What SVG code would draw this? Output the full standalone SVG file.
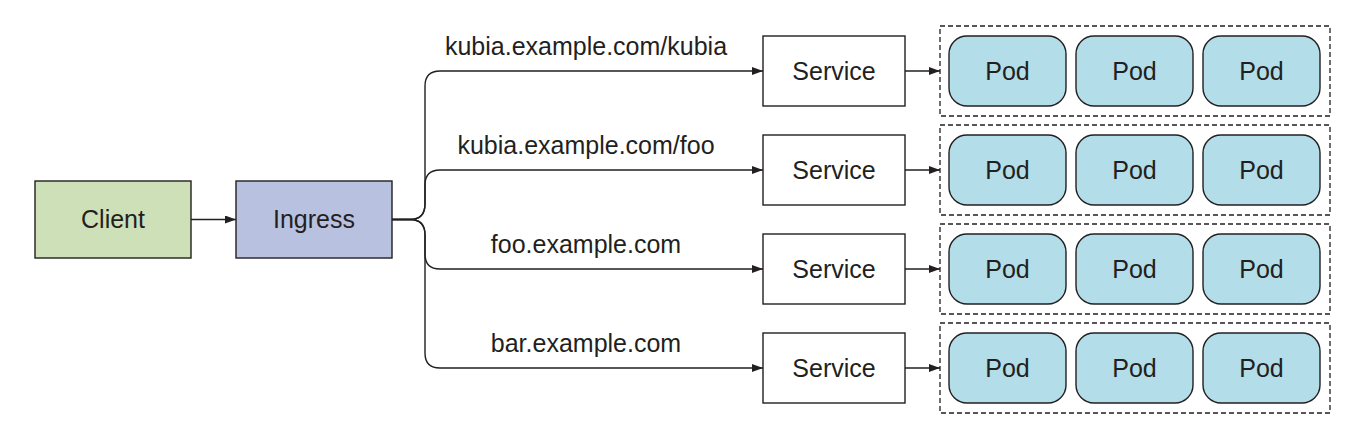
<svg xmlns="http://www.w3.org/2000/svg" width="1364" height="434" viewBox="0 0 1364 434">
<style>
.box{stroke:#231f20;stroke-width:1.4}
.client{fill:#cde0b8}
.ingress{fill:#b9c1e0}
.svc{fill:#ffffff}
.pod{fill:#b3dde9}
.grp{fill:none;stroke:#231f20;stroke-width:1.3;stroke-dasharray:5,3}
.lbl{font-family:"Liberation Sans",Arial,sans-serif;font-size:25px;fill:#231f20;text-anchor:middle}
.conn{fill:none;stroke:#231f20;stroke-width:1.4}
</style>
<defs>
<marker id="arr" markerUnits="userSpaceOnUse" markerWidth="11" markerHeight="8" refX="11" refY="4" orient="auto">
<path d="M0,0 L11,4 L0,8 z" fill="#231f20"/>
</marker>
</defs>
<rect width="1364" height="434" fill="#ffffff"/>
<g id="client"><rect class="box client" x="35" y="181" width="156" height="77"/><text class="lbl" x="113" y="228">Client</text></g>
<g id="ingress"><rect class="box ingress" x="236" y="181" width="156" height="77"/><text class="lbl" x="314" y="228">Ingress</text></g>
<g id="connectors">
<path class="conn" d="M191,219.5 H236" marker-end="url(#arr)"/>
<path class="conn" d="M392,219.5 H410 Q425,219.5 425,204 V86 Q425,71 440,71 H763" marker-end="url(#arr)"/>
<path class="conn" d="M392,219.5 H410 Q425,219.5 425,204 V185 Q425,170 440,170 H763" marker-end="url(#arr)"/>
<path class="conn" d="M392,219.5 H410 Q425,219.5 425,235 V254 Q425,269 440,269 H763" marker-end="url(#arr)"/>
<path class="conn" d="M392,219.5 H410 Q425,219.5 425,235 V353 Q425,368 440,368 H763" marker-end="url(#arr)"/>
<path class="conn" d="M905,71 H940" marker-end="url(#arr)"/>
<path class="conn" d="M905,170 H940" marker-end="url(#arr)"/>
<path class="conn" d="M905,269 H940" marker-end="url(#arr)"/>
<path class="conn" d="M905,368 H940" marker-end="url(#arr)"/>
</g>
<g id="labels">
<text class="lbl" x="586" y="55">kubia.example.com/kubia</text>
<text class="lbl" x="586" y="154">kubia.example.com/foo</text>
<text class="lbl" x="586" y="253">foo.example.com</text>
<text class="lbl" x="586" y="352">bar.example.com</text>
</g>
<g id="service1"><rect class="box svc" x="763" y="36" width="142" height="70"/><text class="lbl" x="834" y="80">Service</text></g>
<g id="service2"><rect class="box svc" x="763" y="135" width="142" height="70"/><text class="lbl" x="834" y="179">Service</text></g>
<g id="service3"><rect class="box svc" x="763" y="234" width="142" height="70"/><text class="lbl" x="834" y="278">Service</text></g>
<g id="service4"><rect class="box svc" x="763" y="333" width="142" height="70"/><text class="lbl" x="834" y="377">Service</text></g>
<g id="pods1">
<rect class="grp" x="940" y="26" width="390" height="90"/>
<rect class="box pod" x="949" y="36" width="117" height="70" rx="18"/><text class="lbl" x="1007.5" y="80">Pod</text>
<rect class="box pod" x="1076" y="36" width="117" height="70" rx="18"/><text class="lbl" x="1134.5" y="80">Pod</text>
<rect class="box pod" x="1203" y="36" width="117" height="70" rx="18"/><text class="lbl" x="1261.5" y="80">Pod</text>
</g>
<g id="pods2">
<rect class="grp" x="940" y="125" width="390" height="90"/>
<rect class="box pod" x="949" y="135" width="117" height="70" rx="18"/><text class="lbl" x="1007.5" y="179">Pod</text>
<rect class="box pod" x="1076" y="135" width="117" height="70" rx="18"/><text class="lbl" x="1134.5" y="179">Pod</text>
<rect class="box pod" x="1203" y="135" width="117" height="70" rx="18"/><text class="lbl" x="1261.5" y="179">Pod</text>
</g>
<g id="pods3">
<rect class="grp" x="940" y="224" width="390" height="90"/>
<rect class="box pod" x="949" y="234" width="117" height="70" rx="18"/><text class="lbl" x="1007.5" y="278">Pod</text>
<rect class="box pod" x="1076" y="234" width="117" height="70" rx="18"/><text class="lbl" x="1134.5" y="278">Pod</text>
<rect class="box pod" x="1203" y="234" width="117" height="70" rx="18"/><text class="lbl" x="1261.5" y="278">Pod</text>
</g>
<g id="pods4">
<rect class="grp" x="940" y="323" width="390" height="90"/>
<rect class="box pod" x="949" y="333" width="117" height="70" rx="18"/><text class="lbl" x="1007.5" y="377">Pod</text>
<rect class="box pod" x="1076" y="333" width="117" height="70" rx="18"/><text class="lbl" x="1134.5" y="377">Pod</text>
<rect class="box pod" x="1203" y="333" width="117" height="70" rx="18"/><text class="lbl" x="1261.5" y="377">Pod</text>
</g>
</svg>
